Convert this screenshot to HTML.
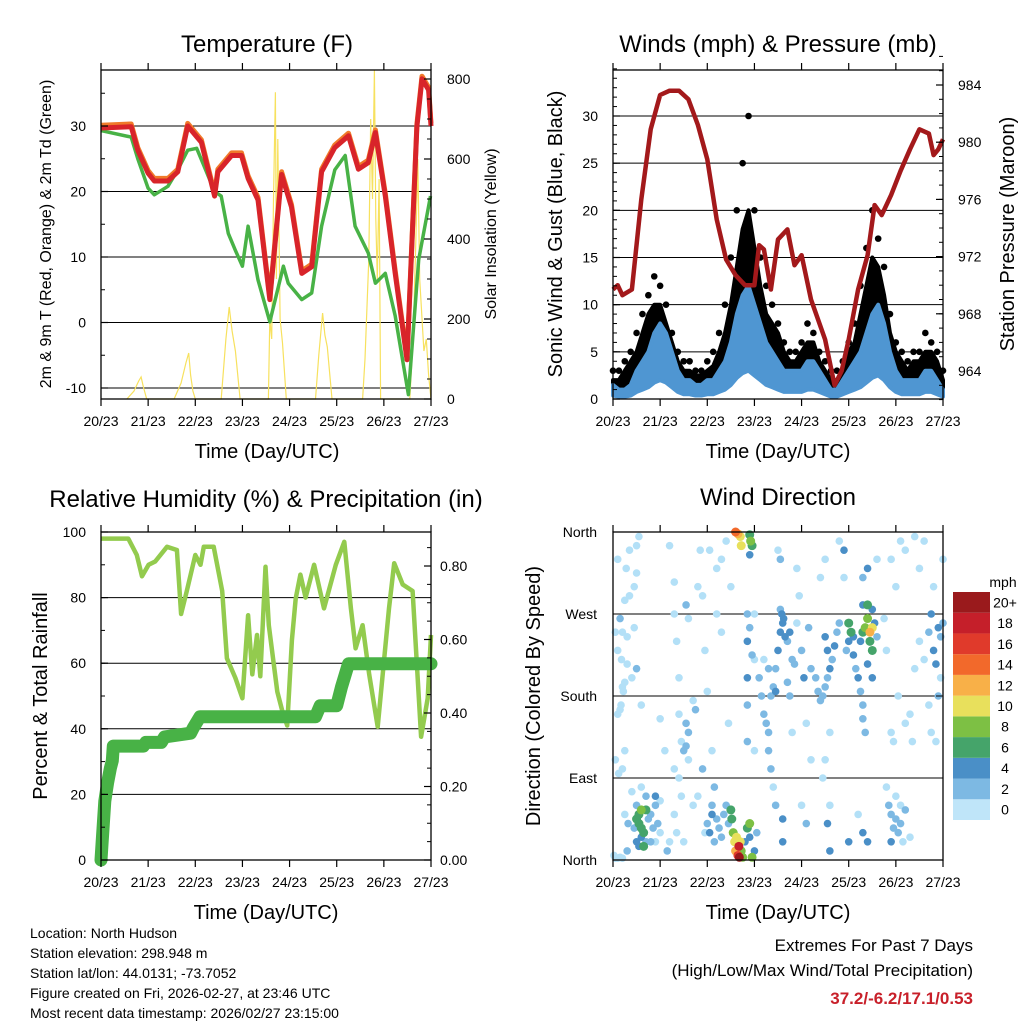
<!DOCTYPE html>
<html><head><meta charset="utf-8"><style>
html,body{margin:0;padding:0;background:#fff}
svg{display:block;font-family:"Liberation Sans",Arial,sans-serif}
</style></head><body>
<svg id="c" width="1024" height="1024" viewBox="0 0 1024 1024" xmlns="http://www.w3.org/2000/svg"></svg>
<script>
// ---------- DATA ----------
const dayLabels = ["20/23","21/23","22/23","23/23","24/23","25/23","26/23","27/23"];
// Temperature panel
const tDay = [0,0.64,0.78,1.0,1.13,1.42,1.63,1.84,2.13,2.41,2.48,2.77,2.98,3.12,3.33,3.58,3.83,4.04,4.26,4.47,4.68,4.96,5.25,5.46,5.67,5.82,6.03,6.24,6.49,6.7,6.81,6.95,7.0];
const tVal = [29.7,29.9,26.3,22.8,21.6,21.6,23,30,27.5,19.3,23,25.5,25.5,22,18.7,3.5,22.6,17.6,7.5,8.5,23,26.7,28.5,23.4,24.4,29,19.3,7.5,-5.7,29.9,37.2,35.5,30];
const dDay = [0,0.64,0.78,1.0,1.13,1.42,1.63,1.84,2.03,2.41,2.55,2.7,2.85,3.0,3.12,3.33,3.58,3.87,3.97,4.26,4.47,4.68,4.96,5.18,5.39,5.67,5.82,6.03,6.24,6.52,6.74,6.99];
const dVal = [29.3,28.3,25,20.5,19.5,20.8,23.3,26.3,26.6,20,19.3,13.6,11,8.6,14.7,6.5,0.1,8.6,6,3.5,4.5,14.7,23.3,25.5,14.7,10.6,6,7.5,1,-11,9.6,19.3];
const solDay = [0.55,0.7,0.8,0.85,0.9,0.97,1.55,1.7,1.8,1.86,1.9,1.95,2.0,2.55,2.65,2.72,2.78,2.85,2.95,3.55,3.58,3.62,3.66,3.7,3.72,3.75,3.8,3.85,3.93,4.55,4.62,4.7,4.75,4.8,4.9,5.55,5.6,5.68,5.72,5.76,5.8,5.83,5.86,5.9,5.93,6.55,6.62,6.68,6.72,6.76,6.85,6.9,6.95,7.0];
const solVal = [0,20,45,55,30,0,0,40,90,115,60,20,0,0,150,230,170,120,0,0,200,150,500,767,300,650,200,140,0,0,110,215,160,130,0,0,100,350,700,500,822,450,300,550,0,0,150,400,600,300,120,150,60,0];
const tempTicks = [-10,0,10,20,30];
const solTicks = [0,200,400,600,800];
// Winds panel (3-hourly)
const windSpd = [1.5,1,1,1.5,3,4,5,7,8,7,5,3,2,2,1.5,1.5,2,2,3,4,6,9,11,12,10,8,6,5,4,3,3,3,3,4,4,3,2,1,1,2,3,4,5,7,9,10,8,5,3,2,2,2,2,3,3,2,1];
const gustTyp = [2,2,3,4,5,7,9,10,10,8,6,4,3,3,2.5,2.5,3,3.5,5,7,10,14,18,20,16,12,9,8,7,5,4,4,5,6,6,4,3,2,2,3,5,6,9,12,15,14,11,7,5,4,3,4,4,5,5,4,2];
const windGust = [3,3,4,5,7,9,11,13,12,10,7,5,4,4,3,3,4,5,7,10,15,20,25,30,20,15,12,10,8,6,5,5,6,8,7,5,4,3,3,4,6,8,12,16,20,17,14,9,6,5,4,5,5,7,6,5,3];
const presDay = [0,0.1,0.2,0.4,0.6,0.8,1.0,1.2,1.4,1.6,1.8,2.0,2.2,2.4,2.6,2.8,3.0,3.1,3.2,3.35,3.5,3.7,3.85,4.0,4.2,4.5,4.7,4.85,5.0,5.2,5.4,5.55,5.7,5.9,6.1,6.3,6.5,6.7,6.8,6.9,7.0];
const presVal = [969.7,970,969.3,969.7,976,980.9,983.3,983.6,983.6,983,981.2,978.8,974.6,971.8,970.7,970,970,972.8,972.5,969.7,973.2,973.9,971.4,972.1,969,966.2,963,964,966.2,969.7,972.1,975.6,974.9,976.3,978,979.5,980.9,980.6,979.1,979.5,980.2];
const windTicks = [0,5,10,15,20,25,30];
const presTicks = [964,968,972,976,980,984];
// RH panel
const rhDay = [0,0.58,0.76,0.87,1.01,1.15,1.4,1.61,1.7,1.82,2.0,2.11,2.18,2.39,2.57,2.67,2.85,3.0,3.12,3.21,3.31,3.38,3.49,3.56,3.74,3.84,3.95,4.05,4.13,4.23,4.34,4.52,4.73,4.98,5.16,5.3,5.4,5.55,5.69,5.87,6.11,6.22,6.4,6.61,6.79,6.93,7.0];
const rhVal = [98,98,93,86.5,90,91,95.5,94.5,75,82,93,90,95.5,95.5,82,61.5,55.5,49.3,74.6,56.6,68.6,56,89.4,71.6,51.3,45.8,41,67,79.7,87,80,90,76.7,90,97,76.7,64.5,71.6,56.6,40.6,76.7,90.5,84,82,37.6,49.3,68.6];
const prDay = [0,0.03,0.08,0.14,0.2,0.24,0.26,0.9,0.95,1.28,1.35,1.9,1.96,2.1,4.55,4.65,5.0,5.1,5.25,7.0];
const prVal = [0,0.06,0.16,0.21,0.25,0.27,0.31,0.31,0.32,0.32,0.335,0.345,0.36,0.39,0.39,0.42,0.42,0.47,0.534,0.534];
const rhTicks = [0,20,40,60,80,100];
const prTicks = [0,0.2,0.4,0.6,0.8];
const prTickLabels = ["0.00","0.20","0.40","0.60","0.80"];
// Wind direction panel
const dirNames = ["North","East","South","West","North"];
const dirTicks = [0,90,180,270,360];
const wdDay = [0.02,0.05,0.1,0.15,0.2,0.05,0.12,0.2,0.25,0.1,0.15,0.17,0.2,0.22,0.25,0.1,0.18,0.3,0.05,0.2,0.3,0.1,0.28,0.35,0.35,0.15,0.25,0.3,0.32,0.25,
0.5,0.55,0.6,0.55,0.65,0.7,0.6,0.5,0.55,0.45,0.7,0.75,0.8,0.85,0.9,0.95,1.0,0.8,0.65,0.6,0.5,0.7,0.9,1.0,0.6,0.4,0.9,
0.45,0.5,0.6,0.4,0.5,0.45,0.5,0.55,1.0,1.1,1.2,1.3,1.3,1.35,1.4,1.4,1.45,1.3,1.4,1.45,1.3,1.35,1.2,1.15,1.5,1.55,1.5,1.55,1.6,1.6,1.55,1.6,1.7,1.75,1.8,1.85,1.9,1.95,2.0,2.05,1.9,1.7,1.8,1.95,
2.0,2.05,2.1,2.15,2.1,2.2,2.25,2.3,2.35,2.4,2.45,2.5,2.52,2.55,2.58,2.6,2.62,2.65,2.67,2.68,2.7,2.72,2.75,2.8,2.85,2.9,2.9,2.95,3.0,3.05,2.1,2.15,2.2,2.2,2.3,2.3,2.4,2.5,2.45,2.6,2.65,2.7,2.72,2.9,2.92,2.95,2.9,2.85,2.85,2.85,2.85,2.85,2.9,2.95,3.0,3.0,3.0,
3.1,3.15,3.2,3.25,3.3,3.3,3.35,3.4,3.45,3.35,3.4,3.45,3.5,3.55,3.6,3.62,3.58,3.55,3.2,3.3,3.6,3.6,3.5,3.55,3.45,
3.65,3.7,3.75,3.8,3.85,3.9,4.0,4.05,4.1,4.2,4.2,3.8,3.7,3.75,4.0,4.1,3.9,3.95,4.15,
4.3,4.35,4.4,4.45,4.5,4.55,4.6,4.65,4.7,4.75,4.8,4.5,4.55,4.6,4.5,4.4,4.5,4.55,4.6,4.6,4.8,4.9,4.9,4.95,5.0,4.45,
5.0,5.05,5.1,5.0,5.1,5.15,5.2,5.25,5.3,5.3,5.35,5.25,5.3,5.35,5.4,5.45,5.5,5.45,5.5,5.4,5.5,5.55,5.6,5.5,5.4,5.3,5.4,5.6,5.3,
5.75,5.8,5.9,6.0,6.05,6.1,6.2,5.9,5.95,6.2,6.3,5.8,5.85,5.9,5.95,6.0,6.05,6.1,6.15,6.1,6.2,5.9,6.0,5.3,5.4,5.2,6.3,6.35,
6.4,6.5,6.6,6.7,6.75,6.8,6.85,6.9,6.95,7.0,6.9,6.95,6.7,6.8,7.0,6.85,6.75,6.5,6.6,6.4];
const wdDeg = [5,2,2,3,2,110,95,100,120,160,165,170,190,185,195,230,220,215,250,250,245,330,320,340,290,265,285,10,40,50,
45,50,55,40,30,55,25,20,15,35,20,45,50,35,60,40,30,20,15,35,60,70,20,65,80,75,70,
300,315,170,200,210,255,345,355,155,120,345,305,270,240,200,160,130,100,90,70,50,30,20,10,20,150,120,125,140,110,280,265,175,165,300,340,290,230,185,340,100,60,70,30,
40,30,50,20,60,45,35,25,50,60,40,55,45,30,20,10,25,5,15,3,20,10,3,20,35,25,40,3,10,30,120,80,270,320,330,250,350,300,150,360,358,355,345,357,350,345,335,270,240,200,170,130,255,225,270,220,120,
200,180,160,150,140,120,100,80,60,180,190,210,230,250,260,265,270,275,220,210,45,20,340,330,185,
245,240,250,220,215,260,230,200,150,210,110,140,195,180,60,40,320,290,255,
200,185,175,180,190,200,210,220,235,250,260,245,230,140,110,310,330,40,10,60,350,340,310,230,20,90,
260,250,245,240,225,210,200,185,170,155,140,240,250,255,265,250,255,240,230,280,275,260,245,200,215,310,320,330,280,
265,230,330,300,180,350,340,140,130,150,160,80,60,50,35,45,30,40,20,60,55,20,70,30,20,50,25,130,
210,240,220,250,270,230,215,255,245,260,180,200,170,300,330,130,140,320,350,355];
const wdSpd = [1,1,1,1,1,1,1,1,1,1,1,1,1,1,1,1,1,1,1,1,1,1,1,1,1,2,1,2,2,1,
6,7,8,7,6,6,4,4,4,3,3,3,2,2,2,2,1,3,6,7,3,2,1,1,1,1,4,
1,1,1,1,2,1,1,1,1,1,1,1,1,1,1,1,1,1,1,1,1,1,1,2,1,2,2,3,2,1,2,1,1,2,1,1,1,1,1,1,2,1,1,1,
3,4,4,3,3,2,3,2,2,2,3,7,7,9,10,12,10,16,18,20,11,9,8,4,7,4,8,9,4,3,1,2,1,1,1,1,1,1,1,14,12,10,10,7,8,6,4,3,4,4,3,3,3,2,1,1,1,
2,3,2,3,2,3,2,1,2,2,3,3,4,4,5,4,5,3,1,2,4,4,1,2,5,
4,3,4,3,2,1,3,4,1,2,1,1,2,2,1,2,1,1,2,
2,2,3,2,3,3,4,3,4,3,2,5,5,1,1,1,1,4,4,1,1,4,1,2,4,1,
6,6,5,4,4,3,4,3,2,2,2,4,6,9,8,12,10,7,6,6,5,4,3,4,5,3,4,1,5,
1,1,1,1,1,1,1,1,1,1,1,1,2,3,3,2,2,2,1,1,2,4,1,4,4,1,1,1,
1,1,1,3,4,4,4,4,3,2,2,1,1,1,1,1,1,1,1,1];
const cbLabels = ["0","2","4","6","8","10","12","14","16","18","20+"];
const cbColors = ["#bfe5f9","#7db9e3","#4a8fc7","#45a46a","#7dc044","#e8e05c","#f8b048","#f2692b","#e03a2b","#c51f2a","#9a1a1c"];
const ptColors = ["#b3e0f7","#7db9e3","#4a8fc7","#45a46a","#7dc044","#e8e05c","#f8b048","#f2692b","#e03a2b","#c51f2a","#9a1a1c"];

// ---------- HELPERS ----------
const NS="http://www.w3.org/2000/svg";
const svg=document.getElementById('c');
function mk(tag,attrs,parent,text){const e=document.createElementNS(NS,tag);for(const k in attrs)e.setAttribute(k,attrs[k]);if(text!==undefined)e.textContent=text;(parent||svg).appendChild(e);return e;}
function grp(name){const g=mk('g',{});return g;}
function lin(d0,d1,r0,r1){return v=>r0+(v-d0)*(r1-r0)/(d1-d0);}
function pathFrom(xs,ys,fx,fy){return xs.map((x,i)=>(i?'L':'M')+fx(x).toFixed(1)+' '+fy(ys[i]).toFixed(1)).join(' ');}
function bandPath(xs,hi,lo,fx,fy){let d='M'+xs.map((x,i)=>fx(x).toFixed(1)+' '+fy(hi[i]).toFixed(1)).join(' L');
  for(let i=xs.length-1;i>=0;i--)d+=' L'+fx(xs[i]).toFixed(1)+' '+fy(lo[i]).toFixed(1);return d+'Z';}
function txt(parent,x,y,s,size,anchor,name,extra){const t=mk('text',Object.assign({x:x,y:y,'font-size':size,'text-anchor':anchor||'middle',fill:'#000'},extra||{}),parent,s);return t;}

function frame(g,x0,x1,y0,y1,fx){
  mk('rect',{x:x0,y:y0,width:x1-x0,height:y1-y0,fill:'none',stroke:'#000','stroke-width':1.3},g);
  for(let i=0;i<=7;i++){const x=fx(i);
    mk('line',{x1:x,x2:x,y1:y0-7,y2:y0,stroke:'#000','stroke-width':1.2},g);
    mk('line',{x1:x,x2:x,y1:y1,y2:y1+7,stroke:'#000','stroke-width':1.2},g);
    txt(g,x,y1+27,dayLabels[i],14,'middle','x-tick-label');
  }
}
function yTicks(g,x,dir,vals,fy,minorStep,lo,hi){
  for(let v=lo;v<=hi+1e-9;v+=minorStep){const y=fy(v);mk('line',{x1:x,x2:x+dir*4,y1:y,y2:y,stroke:'#000','stroke-width':1},g);}
  vals.forEach(v=>{const y=fy(v);mk('line',{x1:x,x2:x+dir*7,y1:y,y2:y,stroke:'#000','stroke-width':1.2},g);});
}
function hgrid(g,x0,x1,ys){ys.forEach(y=>mk('line',{x1:x0,x2:x1,y1:y,y2:y,stroke:'#000','stroke-width':1},g));}
function vlabel(g,x,y,s,size,name){return txt(g,x,y,s,size,'middle',name,{transform:`rotate(-90 ${x} ${y})`});}

// ---------- PANEL 1: TEMPERATURE ----------
(function(){
  const g=grp('temperature-panel');
  const x0=101,x1=431,y0=70,y1=399;
  const fx=lin(0,7,x0,x1), fy=lin(-10,30,388,126), fs=lin(0,800,399,79);
  hgrid(g,x0,x1,tempTicks.map(fy));
  const sol=mk('path',{d:pathFrom(solDay,solVal,fx,fs),fill:'none',stroke:'#f7e15e','stroke-width':1.2},g);
  
  const dp=mk('path',{d:pathFrom(dDay,dVal,fx,fy),fill:'none',stroke:'#48b246','stroke-width':3.5,'stroke-linejoin':'round'},g);
  
  const t9=mk('path',{d:pathFrom(tDay,tVal.map(v=>v+0.4),fx,fy),fill:'none',stroke:'#f07a2a','stroke-width':5,'stroke-linejoin':'round'},g);
  
  const t2=mk('path',{d:pathFrom(tDay,tVal,fx,fy),fill:'none',stroke:'#d8242a','stroke-width':5,'stroke-linejoin':'round'},g);
  
  frame(g,x0,x1,y0,y1,fx);
  yTicks(g,x0,1,tempTicks,fy,5,-10,35);
  yTicks(g,x1,-1,solTicks,fs,50,0,800);
  tempTicks.forEach(v=>txt(g,86,fy(v)+5,String(v),14,'end','y-tick-label'));
  solTicks.forEach(v=>txt(g,447,fs(v)+5,String(v),14,'start','y2-tick-label'));
  txt(g,267,52,'Temperature (F)',24,'middle','chart-title');
  txt(g,267,458,'Time (Day/UTC)',20,'middle','x-axis-title');
  vlabel(g,51,234,'2m & 9m T (Red, Orange) & 2m Td (Green)',16,'y-axis-title');
  vlabel(g,496,234,'Solar Insolation (Yellow)',16,'y2-axis-title');
})();

// ---------- PANEL 2: WINDS ----------
(function(){
  const g=grp('winds-panel');
  const x0=613,x1=943,y0=70,y1=399;
  const fx=lin(0,7,x0,x1), fy=lin(0,30,399,116), fp=lin(964,984,371,85);
  hgrid(g,x0,x1,[5,10,15,20,25,30].map(fy));
  const idx=windSpd.map((_,i)=>i/8);
  const ga=mk('path',{d:bandPath(idx,gustTyp,windSpd,fx,fy),fill:'#000',stroke:'#000','stroke-width':4,'stroke-linejoin':'round'},g);
  
  idx.forEach((d,i)=>{const c=mk('circle',{cx:fx(d),cy:fy(windGust[i]),r:3.3,fill:'#000'},g);
    });
  const wb=mk('path',{d:bandPath(idx,windSpd,windSpd.map(v=>v*0.25),fx,fy),fill:'#4f96d2',stroke:'#4f96d2','stroke-width':4,'stroke-linejoin':'round'},g);
  
  const pl=mk('path',{d:pathFrom(presDay,presVal,fx,fp),fill:'none',stroke:'#a3191b','stroke-width':4.5,'stroke-linejoin':'round'},g);
  
  frame(g,x0,x1,y0,y1,fx);
  yTicks(g,x0,1,windTicks,fy,1,0,35);
  yTicks(g,x1,-1,presTicks,fp,1,962,986);
  windTicks.forEach(v=>txt(g,598,fy(v)+5,String(v),14,'end','y-tick-label'));
  presTicks.forEach(v=>txt(g,958,fp(v)+5,String(v),14,'start','y2-tick-label'));
  txt(g,778,52,'Winds (mph) & Pressure (mb)',24,'middle','chart-title');
  txt(g,778,458,'Time (Day/UTC)',20,'middle','x-axis-title');
  vlabel(g,562,234,'Sonic Wind & Gust (Blue, Black)',20,'y-axis-title');
  vlabel(g,1014,234,'Station Pressure (Maroon)',20,'y2-axis-title');
})();

// ---------- PANEL 3: RH & PRECIP ----------
(function(){
  const g=grp('humidity-panel');
  const x0=101,x1=431,y0=532,y1=860;
  const fx=lin(0,7,x0,x1), fy=lin(0,100,860,532), fp=lin(0,0.8,860,566);
  hgrid(g,x0,x1,[20,40,60,80].map(fy));
  const rl=mk('path',{d:pathFrom(rhDay,rhVal,fx,fy),fill:'none',stroke:'#93cb4e','stroke-width':4.5,'stroke-linejoin':'round'},g);
  
  const pr=mk('path',{d:pathFrom(prDay,prVal,fx,fp),fill:'none',stroke:'#48b246','stroke-width':13,'stroke-linejoin':'round','stroke-linecap':'round'},g);
  
  frame(g,x0,x1,y0,y1,fx);
  yTicks(g,x0,1,rhTicks,fy,10,0,100);
  yTicks(g,x1,-1,prTicks,fp,0.05,0,0.85);
  rhTicks.forEach(v=>txt(g,86,fy(v)+5,String(v),14,'end','y-tick-label'));
  prTicks.forEach((v,i)=>txt(g,440,fp(v)+5,prTickLabels[i],14,'start','y2-tick-label'));
  txt(g,266,507,'Relative Humidity (%) & Precipitation (in)',24,'middle','chart-title');
  txt(g,266,919,'Time (Day/UTC)',20,'middle','x-axis-title');
  vlabel(g,47,696,'Percent & Total Rainfall',20,'y-axis-title');
})();

// ---------- PANEL 4: WIND DIRECTION ----------
(function(){
  const g=grp('wind-direction-panel');
  const x0=613,x1=943,y0=532,y1=860;
  const fx=lin(0,7,x0,x1), fy=lin(0,360,860,532);
  hgrid(g,x0,x1,[90,180,270].map(fy));
  const order=wdSpd.map((s,i)=>i).sort((a,b)=>wdSpd[a]-wdSpd[b]);
  order.forEach(i=>{const bin=Math.min(10,Math.floor(wdSpd[i]/2));
    const c=mk('circle',{cx:fx(wdDay[i]),cy:fy(wdDeg[i]),r:bin>=3?4.5:3.8,fill:ptColors[bin]},g);
    });
  frame(g,x0,x1,y0,y1,fx);
  dirTicks.forEach((v,i)=>{const y=fy(v);
    mk('line',{x1:x0,x2:x0+7,y1:y,y2:y,stroke:'#000'},g);mk('line',{x1:x1,x2:x1-7,y1:y,y2:y,stroke:'#000'},g);
    txt(g,597,y+5,dirNames[i],14,'end','y-tick-label');});
  txt(g,778,505,'Wind Direction',24,'middle','chart-title');
  txt(g,778,919,'Time (Day/UTC)',20,'middle','x-axis-title');
  vlabel(g,540,696,'Direction (Colored By Speed)',20,'y-axis-title');
  const cb=grp('speed-colorbar');
  const bh=(820-592)/11;
  cbColors.forEach((col,i)=>{const y=820-(i+1)*bh;
    const r=mk('rect',{x:953,y:y,width:37,height:bh,fill:col},cb);
    
    txt(cb,1005,y+bh/2+5,cbLabels[i],14,'middle','colorbar-label');});
  txt(cb,1003,587,'mph',14,'middle','colorbar-title');
})();

// ---------- FOOTER ----------
(function(){
  const g=grp('station-info');
  const lines=["Location: North Hudson","Station elevation: 298.948 m","Station lat/lon: 44.0131; -73.7052","Figure created on Fri, 2026-02-27, at 23:46 UTC","Most recent data timestamp: 2026/02/27 23:15:00"];
  lines.forEach((s,i)=>txt(g,30,938+i*20,s,14,'start','info-line'));
  const e=grp('extremes-summary');
  txt(e,973,951,'Extremes For Past 7 Days',17,'end','extremes-title');
  txt(e,973,976,'(High/Low/Max Wind/Total Precipitation)',17,'end','extremes-subtitle');
  txt(e,973,1004,'37.2/-6.2/17.1/0.53',17,'end','extremes-values',{fill:'#c8202a','font-weight':'bold'});
})();
</script>
</body></html>
